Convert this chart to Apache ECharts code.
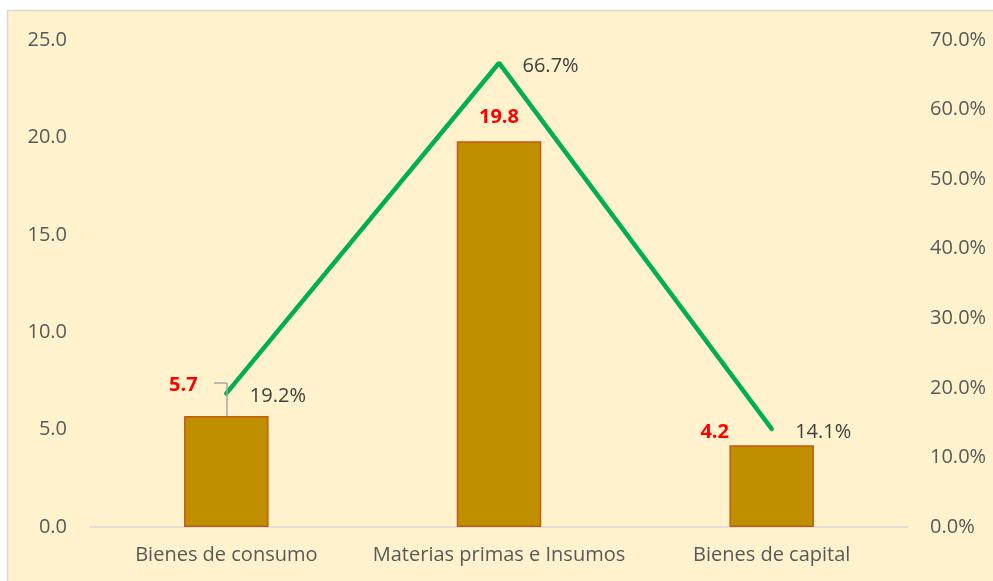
<!DOCTYPE html>
<html>
<head>
<meta charset="utf-8">
<script src="https://cdn.jsdelivr.net/npm/echarts@6/dist/echarts.min.js"></script>
<style>
  html, body { margin: 0; padding: 0; background: #fff; }
  #chart { width: 993px; height: 581px; }
</style>
</head>
<body>
<div id="chart"></div>
<script>
// datos
var categorias = ['Bienes de consumo', 'Materias primas e Insumos', 'Bienes de capital'];
var valores = [5.7, 19.8, 4.2];
var participacion = [19.2, 66.7, 14.1];

var fuente = '"Open Sans", "Noto Sans", sans-serif';

var chart = echarts.init(document.getElementById('chart'));

// desplazamiento de las etiquetas de las barras
var desplazaBarra = [[-43, -16], [0, -9], [-57, 2]];

chart.setOption({
    backgroundColor: '#fff',
    textStyle: { fontFamily: fuente },
    graphic: [
        {
            type: 'rect',
            z: -10,
            shape: { x: 7.5, y: 10.5, width: 1000, height: 600 },
            style: { fill: '#FFF2CC', stroke: '#D9D9D9', lineWidth: 1.5 },
            silent: true
        }
    ],
    grid: { left: 90, right: 85, top: 40, bottom: 54 },
    xAxis: {
        type: 'category',
        data: categorias,
        axisTick: { show: false },
        axisLine: { lineStyle: { color: '#D9D9D9', width: 1.5 } },
        axisLabel: { color: '#595959', fontSize: 20, margin: 18, interval: 0, fontFamily: fuente }
    },
    yAxis: [
        {
            type: 'value',
            min: 0, max: 25, interval: 5,
            splitLine: { show: false },
            axisLine: { show: false },
            axisTick: { show: false },
            axisLabel: {
                color: '#595959', fontSize: 20, margin: 23, fontFamily: fuente,
                formatter: function (v) { return v.toFixed(1); }
            }
        },
        {
            type: 'value',
            min: 0, max: 70, interval: 10,
            splitLine: { show: false },
            axisLine: { show: false },
            axisTick: { show: false },
            axisLabel: {
                color: '#595959', fontSize: 20, margin: 22, fontFamily: fuente,
                formatter: function (v) { return v.toFixed(1) + '%'; }
            }
        }
    ],
    series: [
        {
            name: 'Valor',
            type: 'bar',
            barWidth: '31%',
            yAxisIndex: 0,
            itemStyle: { color: '#BF8F00', borderColor: '#C55A11', borderWidth: 1.5 },
            label: {
                show: true,
                position: 'top',
                color: '#FF0000',
                fontWeight: 'bold',
                fontSize: 20,
                fontFamily: fuente,
                formatter: function (p) { return p.value.toFixed(1); }
            },
            data: valores.map(function (v, i) {
                return { value: v, label: { offset: desplazaBarra[i] } };
            })
        },
        {
            name: 'Participación',
            type: 'line',
            yAxisIndex: 1,
            symbol: 'circle',
            symbolSize: 1,
            showSymbol: true,
            lineStyle: { color: '#00B050', width: 4.5, cap: 'round' },
            itemStyle: { color: '#00B050' },
            label: {
                show: true,
                position: 'right',
                distance: 23,
                offset: [0, 3],
                color: '#404040',
                fontSize: 20,
                fontFamily: fuente,
                formatter: function (p) { return p.value.toFixed(1) + '%'; }
            },
            data: participacion
        },
        {
            // linea guia de la etiqueta 5.7
            type: 'line',
            yAxisIndex: 0,
            silent: true,
            symbol: 'none',
            data: [],
            markLine: {
                silent: true,
                symbol: 'none',
                label: { show: false },
                lineStyle: { color: '#A6A6A6', width: 1.5, type: 'solid' },
                data: [
                    [{ coord: [0, valores[0]], x: 227 }, { x: 227, y: 383 }],
                    [{ x: 227, y: 383 }, { x: 214, y: 383 }]
                ]
            }
        }
    ]
});
</script>
</body>
</html>
